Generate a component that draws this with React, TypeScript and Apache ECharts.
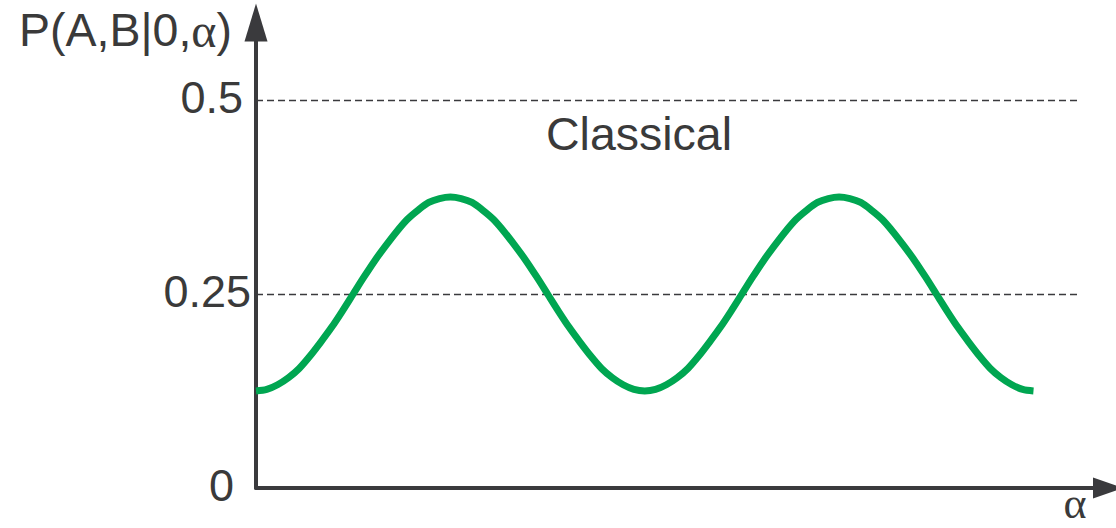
import { useEffect, useRef } from "react";
import * as echarts from "echarts";

// Measurement angle α in degrees
const angles = [
  0, 5, 10, 15, 20, 25, 30, 35, 40, 45, 50, 55, 60, 65, 70, 75, 80, 85, 90,
  95, 100, 105, 110, 115, 120, 125, 130, 135, 140, 145, 150, 155, 160, 165, 170, 175, 180,
  185, 190, 195, 200, 205, 210, 215, 220, 225, 230, 235, 240, 245, 250, 255, 260, 265, 270,
  275, 280, 285, 290, 295, 300, 305, 310, 315, 320, 325, 330, 335, 340, 345, 350, 355, 360,
];
// Joint probability P(A,B|0,α) at each angle
const probability = [
  0.125, 0.127, 0.133, 0.142, 0.154, 0.170, 0.188, 0.207, 0.228, 0.250,
  0.272, 0.293, 0.312, 0.330, 0.346, 0.358, 0.368, 0.373, 0.375,
  0.373, 0.368, 0.358, 0.346, 0.330, 0.312, 0.293, 0.272, 0.250,
  0.228, 0.207, 0.188, 0.170, 0.154, 0.142, 0.133, 0.127, 0.125,
  0.127, 0.133, 0.142, 0.154, 0.170, 0.188, 0.207, 0.228, 0.250,
  0.272, 0.293, 0.312, 0.330, 0.346, 0.358, 0.368, 0.373, 0.375,
  0.373, 0.368, 0.358, 0.346, 0.330, 0.312, 0.293, 0.272, 0.250,
  0.228, 0.207, 0.188, 0.170, 0.154, 0.142, 0.133, 0.127, 0.125,
];
const yTicks = [0, 0.25, 0.5];
const yTickLabels = ["0", "0.25", "0.5"];
const yTitleMain = "P(A,B|0,";
const yTitleGreek = "α";
const yTitleEnd = ")";
const xTitle = "α";
const regimeLabel = "Classical";

const AXIS = "#3a3a3d";
const TEXT = "#3a3a3a";
const CURVE = "#00a651";
const SANS = '"Liberation Sans", Arial, Helvetica, sans-serif';
const SERIF = '"Liberation Serif", "Times New Roman", serif';

export default function App() {
  const ref = useRef<HTMLDivElement>(null);

  useEffect(() => {
    if (!ref.current) return;
    const chart = echarts.init(ref.current, null, { renderer: "svg" });

    const tickPad = [17, 0, 8];
    const rich: Record<string, object> = {};
    yTicks.forEach((_, i) => {
      rich["t" + i] = {
        fontSize: 45,
        fontFamily: SANS,
        color: TEXT,
        padding: [0, tickPad[i], 6, 0],
      };
    });

    chart.setOption({
      animation: false,
      backgroundColor: "#ffffff",
      grid: [
        { left: 256, right: 35, top: 22.4, bottom: 40 },
        { left: 256, right: 8, top: 22.4, bottom: 40 },
      ],
      xAxis: [
        {
          type: "value",
          gridIndex: 0,
          min: 0,
          max: 382,
          show: false,
        },
        {
          type: "value",
          gridIndex: 1,
          min: 0,
          max: 1,
          axisLine: {
            show: true,
            symbol: ["none", "triangle"],
            symbolSize: [21, 30],
            lineStyle: { color: AXIS, width: 4 },
          },
          axisTick: { show: false },
          axisLabel: { show: false },
          splitLine: { show: false },
        },
      ],
      yAxis: [
        {
          type: "value",
          gridIndex: 0,
          min: 0,
          max: 0.6,
          interval: 0.25,
          axisLine: {
            show: true,
            onZero: false,
            symbol: ["none", "triangle"],
            symbolSize: [23, 38],
            lineStyle: { color: AXIS, width: 4 },
          },
          axisTick: { show: false },
          splitLine: {
            show: true,
            showMinLine: false,
            showMaxLine: false,
            lineStyle: { color: AXIS, width: 1.3, type: [7, 4] },
          },
          axisLabel: {
            margin: 5,
            showMaxLabel: false,
            fontSize: 45,
            fontFamily: SANS,
            color: TEXT,
            formatter: (v: number) => {
              const i = yTicks.findIndex((t) => Math.abs(t - v) < 1e-9);
              return i < 0 ? "" : `{t${i}|${yTickLabels[i]}}`;
            },
            rich,
          },
        },
        {
          type: "value",
          gridIndex: 1,
          min: 0,
          max: 0.6,
          show: false,
        },
      ],
      series: [
        {
          type: "line",
          xAxisIndex: 0,
          yAxisIndex: 0,
          data: angles.map((a, i) => [a, probability[i]]),
          smooth: 0.3,
          symbol: "none",
          lineStyle: { color: CURVE, width: 7 },
        },
      ],
      graphic: [
        {
          type: "text",
          x: 232,
          y: 30,
          style: {
            text: `{s|${yTitleMain}}{g|${yTitleGreek}}{s|${yTitleEnd}}`,
            align: "right",
            verticalAlign: "middle",
            rich: {
              s: { fontSize: 46.5, fontFamily: SANS, fill: TEXT },
              g: { fontSize: 48, fontFamily: SERIF, fill: TEXT },
            },
          },
        },
        {
          type: "text",
          x: 639,
          y: 134,
          style: {
            text: regimeLabel,
            align: "center",
            verticalAlign: "middle",
            fontSize: 46.5,
            fontFamily: SANS,
            fill: TEXT,
          },
        },
        {
          type: "text",
          x: 1075,
          y: 525,
          style: {
            text: xTitle,
            align: "center",
            verticalAlign: "bottom",
            fontSize: 44,
            fontFamily: SERIF,
            fill: TEXT,
          },
        },
      ],
    });

    return () => chart.dispose();
  }, []);

  return (
    <div
      ref={ref}
      style={{ position: "absolute", left: 0, top: 0, width: 1116, height: 528 }}
    />
  );
}
